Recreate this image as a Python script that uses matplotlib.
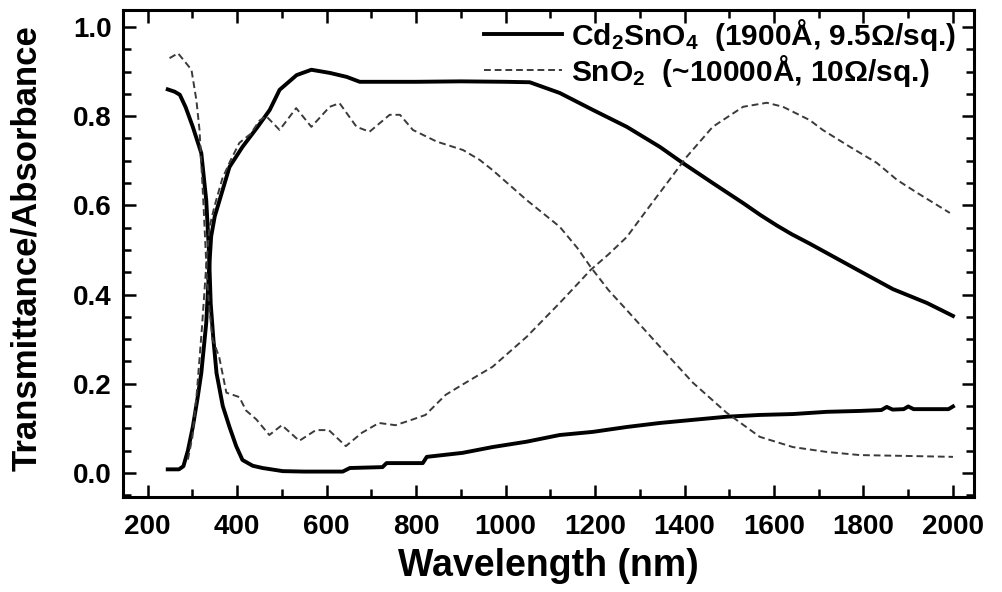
import matplotlib
matplotlib.use("Agg")
import matplotlib.pyplot as plt
from matplotlib.ticker import MultipleLocator

# ---------------- data ----------------
# Cd2SnO4 transmittance (solid)
cd_T_nm = [245, 270, 280, 290, 301, 312, 320, 331, 337, 342, 350, 361, 383, 412, 446,
           473, 495, 533, 566, 607, 645, 674, 800, 900, 1000, 1054, 1121, 1195, 1271,
           1345, 1396, 1460, 1531, 1570, 1606, 1640, 1680, 1720, 1760, 1800, 1866,
           1942, 2000]
cd_T = [0.008, 0.008, 0.015, 0.05, 0.103, 0.17, 0.224, 0.336, 0.45, 0.53, 0.575, 0.612,
        0.686, 0.731, 0.776, 0.814, 0.859, 0.892, 0.904, 0.897, 0.888, 0.877, 0.877,
        0.878, 0.877, 0.876, 0.852, 0.814, 0.776, 0.731, 0.695, 0.652, 0.605, 0.578,
        0.555, 0.535, 0.514, 0.492, 0.47, 0.448, 0.412, 0.381, 0.352]

# Cd2SnO4 absorbance (solid)
cd_A_nm = [245, 260, 272, 285, 301, 320, 331, 337, 341, 347, 354, 368, 383, 398, 412,
           435, 457, 502, 550, 636, 652, 725, 734, 815, 824, 904, 971, 1047, 1121, 1195,
           1271, 1345, 1419, 1494, 1568, 1642, 1718, 1792, 1840, 1852, 1865, 1890,
           1900, 1912, 1990, 2000]
cd_A = [0.86, 0.855, 0.848, 0.82, 0.776, 0.717, 0.612, 0.5, 0.38, 0.3, 0.224, 0.15,
        0.103, 0.06, 0.029, 0.016, 0.011, 0.004, 0.003, 0.003, 0.011, 0.013, 0.022,
        0.022, 0.036, 0.045, 0.058, 0.07, 0.085, 0.092, 0.103, 0.112, 0.119, 0.126,
        0.13, 0.132, 0.137, 0.139, 0.141, 0.148, 0.142, 0.143, 0.149, 0.143, 0.143,
        0.149]

# SnO2 transmittance (dashed)
sn_T_nm = [290, 300, 310, 321, 330, 338, 350, 367, 385, 405, 430, 450, 465, 495, 532,
           566, 607, 629, 667, 696, 741, 764, 793, 846, 905, 942, 971, 1047, 1121,
           1160, 1190, 1230, 1271, 1345, 1419, 1494, 1568, 1642, 1718, 1792, 1900, 2000]
sn_T = [0.03, 0.08, 0.18, 0.32, 0.45, 0.55, 0.6, 0.66, 0.7, 0.74, 0.76, 0.79, 0.80,
        0.769, 0.818, 0.776, 0.821, 0.829, 0.776, 0.765, 0.803, 0.803, 0.769, 0.743,
        0.724, 0.702, 0.679, 0.612, 0.552, 0.505, 0.462, 0.41, 0.365, 0.283, 0.202,
        0.135, 0.081, 0.058, 0.047, 0.04, 0.038, 0.036]

# SnO2 absorbance (dashed)
sn_A_nm = [249, 268, 298, 309, 316, 325, 332, 338, 345, 360, 376, 405, 420, 443, 472,
           500, 539, 576, 605, 643, 679, 717, 754, 790, 821, 866, 902, 971, 1047, 1121,
           1150, 1190, 1230, 1271, 1316, 1361, 1405, 1463, 1531, 1584, 1620, 1680,
           1709, 1770, 1830, 1875, 1920, 1993]
sn_A = [0.93, 0.941, 0.904, 0.836, 0.769, 0.6, 0.45, 0.37, 0.3, 0.26, 0.18, 0.17,
        0.14, 0.12, 0.085, 0.107, 0.072, 0.096, 0.096, 0.06, 0.09, 0.112, 0.107, 0.119,
        0.13, 0.175, 0.197, 0.238, 0.305, 0.381, 0.412, 0.455, 0.49, 0.529, 0.59, 0.65,
        0.709, 0.776, 0.821, 0.83, 0.821, 0.791, 0.769, 0.731, 0.695, 0.657, 0.628,
        0.583]

legend_labels = [r"Cd$_{2}$SnO$_{4}$  (1900Å, 9.5Ω/sq.)",
                 r"SnO$_{2}$  (~10000Å, 10Ω/sq.)"]
x_label = "Wavelength (nm)"
y_label = "Transmittance/Absorbance"

# ---------------- style ----------------
plt.rcParams["font.family"] = ["Liberation Sans", "DejaVu Sans"]
plt.rcParams["font.weight"] = "bold"
plt.rcParams["mathtext.fontset"] = "custom"
plt.rcParams["mathtext.rm"] = "Liberation Sans:bold"
plt.rcParams["mathtext.it"] = "Liberation Sans:bold"
plt.rcParams["mathtext.bf"] = "Liberation Sans:bold"
plt.rcParams["mathtext.default"] = "rm"

fig = plt.figure(figsize=(10.02, 5.92), dpi=100)
ax = fig.add_axes([123 / 1002, 1 - 497 / 592, (974 - 123) / 1002, (497 - 10) / 592])

solid_kw = dict(color="black", lw=2.8, solid_joinstyle="round")
dash_kw = dict(color="#3a3a3a", lw=1.4, dashes=(3.5, 2.0))

l1, = ax.plot(cd_T_nm, cd_T, **solid_kw)
ax.plot(cd_A_nm, cd_A, **solid_kw)
l2, = ax.plot(sn_T_nm, sn_T, **dash_kw)
ax.plot(sn_A_nm, sn_A, **dash_kw)

ax.set_xlim(145, 2047)
ax.set_ylim(-0.054, 1.038)
ax.xaxis.set_major_locator(MultipleLocator(200))
ax.xaxis.set_minor_locator(MultipleLocator(100))
ax.yaxis.set_major_locator(MultipleLocator(0.2))
ax.yaxis.set_minor_locator(MultipleLocator(0.05))
ax.yaxis.set_major_formatter(matplotlib.ticker.FormatStrFormatter("%.1f"))

for s in ax.spines.values():
    s.set_linewidth(2.2)
ax.tick_params(which="both", direction="in", top=True, right=True, width=1.8)
ax.tick_params(which="major", length=9)
ax.tick_params(which="minor", length=6)
ax.tick_params(axis="x", which="major", labelsize=20, pad=12)
ax.tick_params(axis="y", which="major", labelsize=20, pad=8)
for lab in ax.get_xticklabels() + ax.get_yticklabels():
    lab.set_fontweight("bold")

fig.text(548 / 1002, 1 - 566 / 592, x_label, ha="center", va="center",
         fontsize=27, fontweight="bold")
fig.text(27 / 1002, 1 - 248 / 592, y_label, ha="center", va="center",
         rotation=90, fontsize=25, fontweight="bold")

leg = ax.legend([l1, l2], legend_labels, loc="upper right", frameon=False,
                bbox_to_anchor=(0.998, 1.02), handlelength=2.6,
                handletextpad=0.3, labelspacing=0.0, borderaxespad=0.15,
                prop=dict(weight="bold", size=21.5))

fig.savefig("out.png", dpi=100)
